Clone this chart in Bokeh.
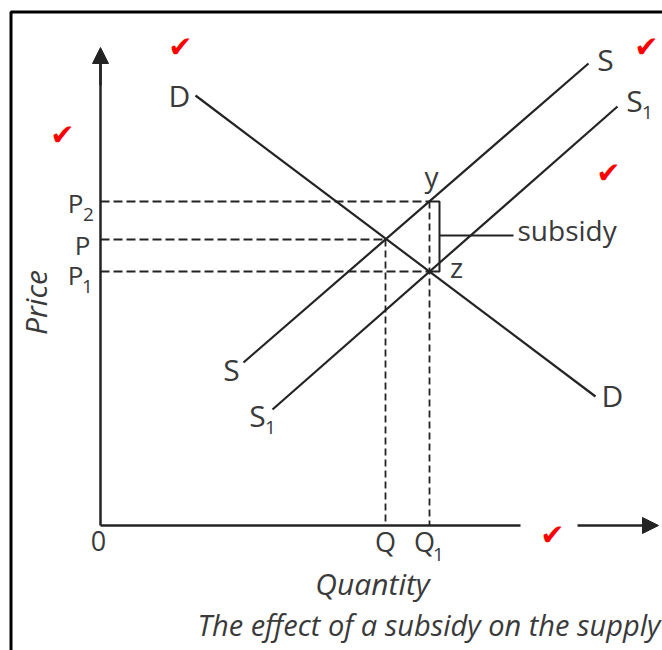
import math
from bokeh.plotting import figure
from bokeh.models import Range1d, Arrow, NormalHead
from bokeh.core.properties import value
from bokeh.embed import file_html
from bokeh.resources import INLINE

# ---------------- data (arbitrary units: quantity, price) ----------------
demand_q = [9.5, 49.5]
demand_p = [43.0, 12.9]
supply_q = [14.3, 48.8]
supply_p = [16.3, 46.2]
supply1_q = [17.2, 51.7]
supply1_p = [11.6, 41.9]

price_names = ["P", "P", "P"]
price_subs = ["2", "", "1"]
price_levels = [32.4, 28.6, 25.4]        # P2, P, P1
qty_names = ["Q", "Q"]
qty_subs = ["", "1"]
qty_levels = [28.5, 32.9]                # Q, Q1

P2, P0, P1 = price_levels
Q0, Q1 = qty_levels

LINE = "#232323"
TXT = "#3a3a3a"
FONT = value("Open Sans")

p = figure(width=662, height=650, x_range=Range1d(-10.0, 56.2), y_range=Range1d(-12.5, 52.5),
           output_backend="svg", toolbar_location=None, min_border=0)
p.axis.visible = False
p.grid.visible = False
p.outline_line_color = None
p.background_fill_color = "white"
p.border_fill_color = "white"


def label(x, y, text, size, align="center", italic=False, angle=0.0, color=TXT):
    # shift so that the drawn baseline lands on the given position
    off = 0.042 * size
    if angle:
        x = [v - off for v in x]
    else:
        y = [v + off for v in y]
    p.text(x=x, y=y, text=text, text_font=FONT, text_font_size=f"{size}px",
           text_font_style="italic" if italic else "normal", angle=angle,
           text_align=align, text_baseline="alphabetic", text_color=color)


# frame border (left + top)
p.line([-8.95, -8.95, 57], [-13, 51.35, 51.35], line_color="black", line_width=3)

# axes
p.line([0, 0], [0, 46.5], line_color=LINE, line_width=2.5)
p.add_layout(Arrow(end=NormalHead(size=16, fill_color=LINE, line_color=LINE, line_width=1),
                   x_start=0, y_start=44, x_end=0, y_end=47.8, line_color=LINE, line_width=2.5))
p.line([0, 42.0], [0, 0], line_color=LINE, line_width=2.5)
p.add_layout(Arrow(end=NormalHead(size=16, fill_color=LINE, line_color=LINE, line_width=1),
                   x_start=47.7, y_start=0, x_end=55.8, y_end=0, line_color=LINE, line_width=2.5))

# curves
p.line(demand_q, demand_p, line_color=LINE, line_width=2.2)
p.line(supply_q, supply_p, line_color=LINE, line_width=2.2)
p.line(supply1_q, supply1_p, line_color=LINE, line_width=2.2)

# dashed guides
p.segment(x0=[0, 0, 0], y0=price_levels, x1=[Q1, Q0, Q1], y1=price_levels,
          line_color=LINE, line_width=2, line_dash="9 4")
p.segment(x0=qty_levels, y0=[P0, P2], x1=qty_levels, y1=[0, 0],
          line_color=LINE, line_width=1.8, line_dash="7 4")

# subsidy bracket
bx = 33.9
p.line([Q1, bx, bx, Q1], [P2, P2, P1, P1], line_color=LINE, line_width=2)
p.line([bx, 41.3], [29.0, 29.0], line_color=LINE, line_width=2)

# labels on curves
label([7.9, 51.2], [41.7, 11.7], ["D", "D"], 30)
label([50.5, 53.4, 13.1, 15.7], [45.3, 41.2, 14.3, 9.7], ["S", "S", "S", "S"], 30)
label([54.7, 17.0], [40.5, 9.0], ["1", "1"], 19)

# y, z, subsidy
label([33.1, 35.6], [33.8, 24.7], ["y", "z"], 28)
label([41.7], [28.4], ["subsidy"], 28, align="left")

# price tick labels
label([-2.5, -1.8, -2.5], [P2 - 1.2, P0 - 1.6, P1 - 1.4], price_names, 26)
label([-1.2, -1.3], [P2 - 2.1, P1 - 2.3], [price_subs[0], price_subs[2]], 19)

# quantity tick labels
label([-0.2, Q0, Q1 - 0.5], [-2.7, -2.7, -2.7], ["0"] + qty_names, 27)
label([Q1 + 0.9], [-3.7], [qty_subs[1]], 19)

# axis titles and caption
label([27.2], [-7.1], ["Quantity"], 30, italic=True)
label([-5.2], [22.3], ["Price"], 30, italic=True, angle=math.pi / 2)
label([9.7], [-11.1], ["The effect of a subsidy on the supply"], 29, align="left", italic=True)

# red check marks
p.text(x=[8.0, 54.6, -3.8, 50.8, 45.2], y=[47.9, 47.9, 39.1, 35.3, -0.9], text=["✔"] * 5,
       text_font=value("DejaVu Sans"), text_font_size="29px", text_align="center",
       text_baseline="middle", text_color="#ff0000")

open("out.html", "w").write(file_html(p, INLINE))
